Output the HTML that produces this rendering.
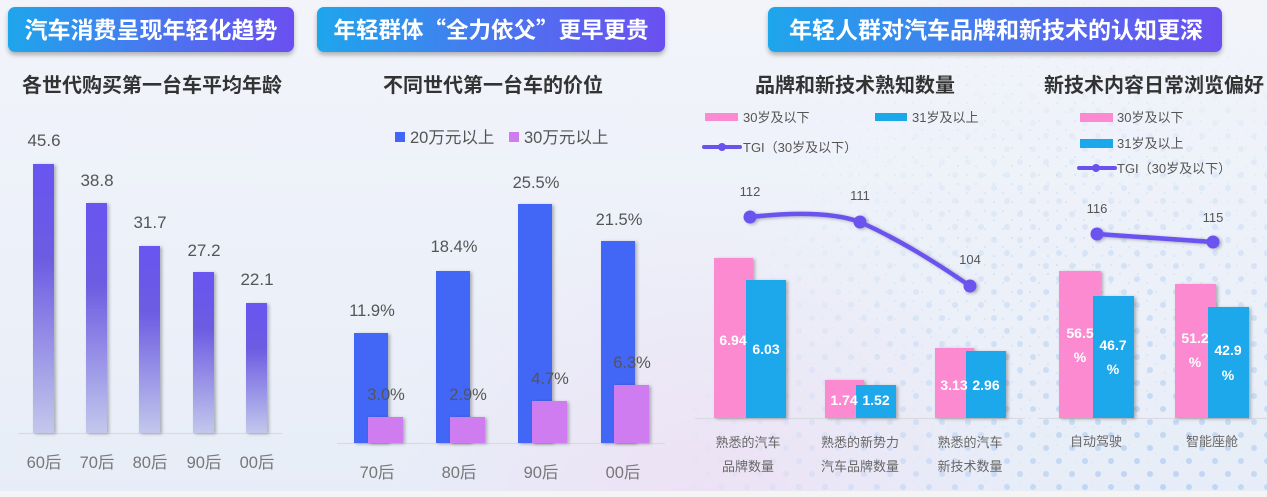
<!DOCTYPE html>
<html>
<head>
<meta charset="utf-8">
<style>
  html,body{margin:0;padding:0;}
  body{width:1267px;height:497px;overflow:hidden;background:#eef2fa;}
  svg{display:block;}
  text{font-family:"Liberation Sans","Noto Sans CJK SC",sans-serif;}
  .cjk{font-family:"Noto Sans CJK SC","Liberation Sans",sans-serif;}
</style>
</head>
<body>
<svg width="1267" height="497" viewBox="0 0 1267 497" xmlns="http://www.w3.org/2000/svg">
  <defs>
    <linearGradient id="bg" x1="0" y1="0" x2="0" y2="1">
      <stop offset="0" stop-color="#f2f4fa"/>
      <stop offset="1" stop-color="#e7edf8"/>
    </linearGradient>
    <radialGradient id="pinkTint" cx="700" cy="520" r="320" gradientUnits="userSpaceOnUse">
      <stop offset="0" stop-color="#efdcf3" stop-opacity="0.7"/>
      <stop offset="1" stop-color="#efdcf3" stop-opacity="0"/>
    </radialGradient>
    <linearGradient id="badge" x1="0" y1="0" x2="1" y2="0">
      <stop offset="0" stop-color="#1ea6ec"/>
      <stop offset="0.5" stop-color="#4878ef"/>
      <stop offset="1" stop-color="#6b4ff0"/>
    </linearGradient>
    <linearGradient id="p1bar" x1="0" y1="0" x2="0" y2="1">
      <stop offset="0" stop-color="#6a55f0"/>
      <stop offset="0.35" stop-color="#6c5ce2"/>
      <stop offset="1" stop-color="#c3c8ec"/>
    </linearGradient>
    <filter id="shadow" x="-20%" y="-20%" width="150%" height="150%">
      <feDropShadow dx="2" dy="1" stdDeviation="1.5" flood-color="#000" flood-opacity="0.28"/>
    </filter>
    <filter id="bshadow" x="-10%" y="-20%" width="120%" height="160%">
      <feDropShadow dx="0" dy="3" stdDeviation="2.5" flood-color="#000" flood-opacity="0.28"/>
    </filter>
    <pattern id="dots" width="26" height="26" patternUnits="userSpaceOnUse">
      <circle cx="6" cy="6" r="3" fill="#b4cff2"/>
      <circle cx="19" cy="19" r="3" fill="#b4cff2"/>
    </pattern>
    <pattern id="dotsSmall" width="18" height="18" patternUnits="userSpaceOnUse">
      <circle cx="4" cy="4" r="1.1" fill="#bfe3ee"/>
      <circle cx="13" cy="13" r="1.1" fill="#bfe3ee"/>
    </pattern>
    <radialGradient id="dotMaskG" cx="1150" cy="520" r="480" gradientUnits="userSpaceOnUse">
      <stop offset="0" stop-color="#fff" stop-opacity="0.9"/>
      <stop offset="0.5" stop-color="#fff" stop-opacity="0.45"/>
      <stop offset="1" stop-color="#fff" stop-opacity="0"/>
    </radialGradient>
    <mask id="dotMask">
      <rect x="0" y="0" width="1267" height="497" fill="url(#dotMaskG)"/>
    </mask>
    <radialGradient id="dotMaskG2" cx="1050" cy="260" r="320" gradientUnits="userSpaceOnUse">
      <stop offset="0" stop-color="#fff" stop-opacity="0.7"/>
      <stop offset="1" stop-color="#fff" stop-opacity="0"/>
    </radialGradient>
    <mask id="dotMask2">
      <rect x="0" y="0" width="1267" height="497" fill="url(#dotMaskG2)"/>
    </mask>
  </defs>

  <!-- background -->
  <rect x="0" y="0" width="1267" height="497" fill="url(#bg)"/>
  <rect x="0" y="0" width="1267" height="497" fill="url(#pinkTint)"/>
  <rect x="0" y="0" width="1267" height="497" fill="url(#dotsSmall)" mask="url(#dotMask2)"/>
  <rect x="0" y="0" width="1267" height="497" fill="url(#dots)" mask="url(#dotMask)"/>
  <rect x="0" y="491" width="1267" height="6" fill="#f4f4f5"/>

  <!-- badges -->
  <rect x="8" y="7" width="286" height="45" rx="7" fill="url(#badge)" filter="url(#bshadow)"/>
  <text x="151" y="38" text-anchor="middle" font-size="23" font-weight="700" fill="#fff">汽车消费呈现年轻化趋势</text>

  <rect x="317" y="7" width="348" height="45" rx="7" fill="url(#badge)" filter="url(#bshadow)"/>
  <text class="cjk" x="491" y="38" text-anchor="middle" font-size="22.5" font-weight="700" fill="#fff">年轻群体“全力依父”更早更贵</text>

  <rect x="768" y="7" width="454" height="45" rx="7" fill="url(#badge)" filter="url(#bshadow)"/>
  <text x="996" y="38" text-anchor="middle" font-size="23" font-weight="700" fill="#fff">年轻人群对汽车品牌和新技术的认知更深</text>

  <!-- subtitles -->
  <text x="152" y="92" text-anchor="middle" font-size="20" font-weight="700" fill="#333">各世代购买第一台车平均年龄</text>
  <text x="493" y="92" text-anchor="middle" font-size="20" font-weight="700" fill="#333">不同世代第一台车的价位</text>
  <text x="855" y="92" text-anchor="middle" font-size="20" font-weight="700" fill="#333">品牌和新技术熟知数量</text>
  <text x="1154" y="92" text-anchor="middle" font-size="20" font-weight="700" fill="#333">新技术内容日常浏览偏好</text>

  <!-- ========== Panel 1 ========== -->
  <line x1="18" y1="433.5" x2="282" y2="433.5" stroke="#d9dbe0" stroke-width="1.2"/>
  <g filter="url(#shadow)">
    <rect x="33" y="164" width="21" height="269" fill="url(#p1bar)"/>
    <rect x="86" y="203" width="21" height="230" fill="url(#p1bar)"/>
    <rect x="139" y="246" width="21" height="187" fill="url(#p1bar)"/>
    <rect x="193" y="272" width="21" height="161" fill="url(#p1bar)"/>
    <rect x="246" y="303" width="21" height="130" fill="url(#p1bar)"/>
  </g>
  <g font-size="17" fill="#555" text-anchor="middle">
    <text x="44" y="146">45.6</text>
    <text x="97" y="186">38.8</text>
    <text x="150" y="228">31.7</text>
    <text x="204" y="256">27.2</text>
    <text x="257" y="285">22.1</text>
  </g>
  <g font-size="16.5" fill="#777" text-anchor="middle">
    <text x="44" y="468">60后</text>
    <text x="97" y="468">70后</text>
    <text x="150" y="468">80后</text>
    <text x="204" y="468">90后</text>
    <text x="257" y="468">00后</text>
  </g>

  <!-- ========== Panel 2 ========== -->
  <rect x="395" y="132" width="10" height="10" fill="#4266f5"/>
  <text x="410" y="143" font-size="16.5" fill="#555">20万元以上</text>
  <rect x="509" y="132" width="10" height="10" fill="#cf7cf0"/>
  <text x="524" y="143" font-size="16.5" fill="#555">30万元以上</text>

  <line x1="337" y1="443.5" x2="665" y2="443.5" stroke="#d9dbe0" stroke-width="1.2"/>
  <g filter="url(#shadow)">
    <rect x="354" y="333" width="34" height="110" fill="#4266f5"/>
    <rect x="436" y="271" width="34" height="172" fill="#4266f5"/>
    <rect x="518" y="204" width="34" height="239" fill="#4266f5"/>
    <rect x="601" y="241" width="34" height="202" fill="#4266f5"/>
  </g>
  <g filter="url(#shadow)">
    <rect x="368" y="417" width="35" height="26" fill="#cf7cf0"/>
    <rect x="450" y="417" width="35" height="26" fill="#cf7cf0"/>
    <rect x="532" y="401" width="35" height="42" fill="#cf7cf0"/>
    <rect x="614" y="385" width="35" height="58" fill="#cf7cf0"/>
  </g>
  <g font-size="16.5" fill="#555" text-anchor="middle">
    <text x="372" y="316">11.9%</text>
    <text x="454" y="252">18.4%</text>
    <text x="536" y="188">25.5%</text>
    <text x="619" y="225">21.5%</text>
    <text x="386" y="400">3.0%</text>
    <text x="468" y="400">2.9%</text>
    <text x="550" y="384">4.7%</text>
    <text x="632" y="368">6.3%</text>
  </g>
  <g font-size="16.5" fill="#777" text-anchor="middle">
    <text x="377" y="478">70后</text>
    <text x="459" y="478">80后</text>
    <text x="541" y="478">90后</text>
    <text x="623" y="478">00后</text>
  </g>

  <!-- ========== Panel 3 left ========== -->
  <rect x="705" y="113" width="33" height="8" fill="#fb8ad0"/>
  <text x="743" y="122" font-size="13" fill="#555">30岁及以下</text>
  <rect x="875" y="113" width="32" height="8" fill="#1ba8ea"/>
  <text x="912" y="122" font-size="13" fill="#555">31岁及以上</text>
  <line x1="704" y1="147" x2="740" y2="147" stroke="#6a52ee" stroke-width="4" stroke-linecap="round"/>
  <circle cx="722" cy="147" r="4" fill="#6a52ee"/>
  <text x="743" y="152" font-size="13" fill="#555">TGI（30岁及以下）</text>

  <line x1="695" y1="418.5" x2="1025" y2="418.5" stroke="#d9dbe0" stroke-width="1.2"/>
  <g filter="url(#shadow)">
    <rect x="714" y="258" width="39" height="160" fill="#fb8ad0"/>
    <rect x="746" y="280" width="40" height="138" fill="#1ba8ea"/>
    <rect x="825" y="380" width="39" height="38" fill="#fb8ad0"/>
    <rect x="856" y="385" width="40" height="33" fill="#1ba8ea"/>
    <rect x="935" y="348" width="39" height="70" fill="#fb8ad0"/>
    <rect x="966" y="351" width="40" height="67" fill="#1ba8ea"/>
  </g>
  <g font-size="14" font-weight="700" fill="#fff" text-anchor="middle">
    <text x="733" y="345">6.94</text>
    <text x="766" y="354">6.03</text>
    <text x="844" y="405">1.74</text>
    <text x="876" y="405">1.52</text>
    <text x="954" y="390">3.13</text>
    <text x="986" y="390">2.96</text>
  </g>
  <g filter="url(#shadow)">
    <path d="M750,217 C786,213 830,211 860,222 C900,240 935,262 970,286" fill="none" stroke="#6a52ee" stroke-width="4.5" stroke-linecap="round"/>
    <circle cx="750" cy="217" r="6.5" fill="#6a52ee"/>
    <circle cx="860" cy="222" r="6.5" fill="#6a52ee"/>
    <circle cx="970" cy="286" r="6.5" fill="#6a52ee"/>
  </g>
  <g font-size="13" fill="#555" text-anchor="middle">
    <text x="750" y="196">112</text>
    <text x="860" y="200">111</text>
    <text x="970" y="264">104</text>
  </g>
  <g font-size="13" fill="#666" text-anchor="middle">
    <text x="748" y="447">熟悉的汽车</text>
    <text x="748" y="471">品牌数量</text>
    <text x="860" y="447">熟悉的新势力</text>
    <text x="860" y="471">汽车品牌数量</text>
    <text x="970" y="447">熟悉的汽车</text>
    <text x="970" y="471">新技术数量</text>
  </g>

  <!-- ========== Panel 3 right ========== -->
  <rect x="1080" y="113" width="33" height="9" fill="#fb8ad0"/>
  <text x="1117" y="122" font-size="13" fill="#555">30岁及以下</text>
  <rect x="1080" y="139" width="33" height="9" fill="#1ba8ea"/>
  <text x="1117" y="148" font-size="13" fill="#555">31岁及以上</text>
  <line x1="1079" y1="168" x2="1115" y2="168" stroke="#6a52ee" stroke-width="4" stroke-linecap="round"/>
  <circle cx="1096" cy="168" r="4" fill="#6a52ee"/>
  <text x="1117" y="173" font-size="13" fill="#555">TGI（30岁及以下）</text>

  <line x1="1038" y1="418.5" x2="1267" y2="418.5" stroke="#d9dbe0" stroke-width="1.2"/>
  <g filter="url(#shadow)">
    <rect x="1059" y="271" width="42" height="147" fill="#fb8ad0"/>
    <rect x="1093" y="296" width="41" height="122" fill="#1ba8ea"/>
    <rect x="1175" y="284" width="41" height="134" fill="#fb8ad0"/>
    <rect x="1208" y="307" width="41" height="111" fill="#1ba8ea"/>
  </g>
  <g font-size="14" font-weight="700" fill="#fff" text-anchor="middle">
    <text x="1080" y="338">56.5</text>
    <text x="1080" y="362">%</text>
    <text x="1113" y="350">46.7</text>
    <text x="1113" y="374">%</text>
    <text x="1195" y="343">51.2</text>
    <text x="1195" y="367">%</text>
    <text x="1228" y="355">42.9</text>
    <text x="1228" y="380">%</text>
  </g>
  <g filter="url(#shadow)">
    <line x1="1097" y1="234" x2="1213" y2="242" stroke="#6a52ee" stroke-width="4.5" stroke-linecap="round"/>
    <circle cx="1097" cy="234" r="6.5" fill="#6a52ee"/>
    <circle cx="1213" cy="242" r="6.5" fill="#6a52ee"/>
  </g>
  <g font-size="13" fill="#555" text-anchor="middle">
    <text x="1097" y="213">116</text>
    <text x="1213" y="222">115</text>
  </g>
  <g font-size="13" fill="#666" text-anchor="middle">
    <text x="1096" y="446">自动驾驶</text>
    <text x="1212" y="446">智能座舱</text>
  </g>
</svg>
</body>
</html>
